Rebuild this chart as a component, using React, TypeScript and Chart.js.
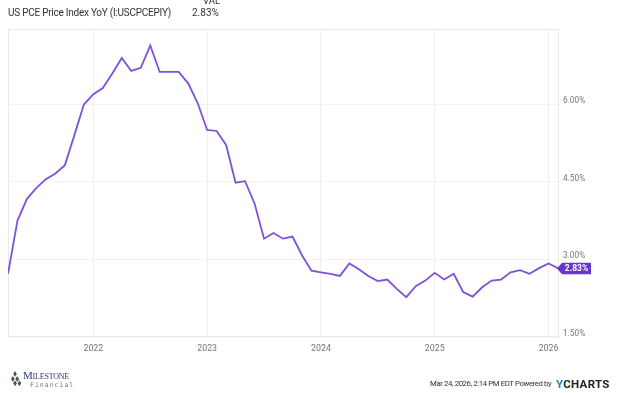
import React, { useEffect, useRef } from "react";
import { Chart, registerables } from "chart.js";

Chart.register(...registerables);

const seriesName = "US PCE Price Index YoY (I:USCPCEPIY)";
const lastValueText = "2.83%";

const months = [
  "2021-03", "2021-04", "2021-05", "2021-06", "2021-07", "2021-08", "2021-09", "2021-10", "2021-11", "2021-12",
  "2022-01", "2022-02", "2022-03", "2022-04", "2022-05", "2022-06", "2022-07", "2022-08", "2022-09", "2022-10", "2022-11", "2022-12",
  "2023-01", "2023-02", "2023-03", "2023-04", "2023-05", "2023-06", "2023-07", "2023-08", "2023-09", "2023-10", "2023-11", "2023-12",
  "2024-01", "2024-02", "2024-03", "2024-04", "2024-05", "2024-06", "2024-07", "2024-08", "2024-09", "2024-10", "2024-11", "2024-12",
  "2025-01", "2025-02", "2025-03", "2025-04", "2025-05", "2025-06", "2025-07", "2025-08", "2025-09", "2025-10", "2025-11", "2025-12",
  "2026-01",
];

const pceYoY = [
  2.72, 3.75, 4.17, 4.38, 4.55, 4.66, 4.82, 5.40, 5.99, 6.19,
  6.31, 6.59, 6.89, 6.64, 6.70, 7.13, 6.62, 6.62, 6.62, 6.40, 6.02, 5.50,
  5.48, 5.21, 4.48, 4.51, 4.08, 3.40, 3.51, 3.40, 3.44, 3.08, 2.78, 2.75,
  2.72, 2.68, 2.92, 2.81, 2.68, 2.58, 2.61, 2.43, 2.27, 2.48, 2.59, 2.74,
  2.61, 2.72, 2.37, 2.28, 2.46, 2.59, 2.61, 2.75, 2.79, 2.72, 2.83, 2.92,
  2.83,
];

const yTickValues = [1.5, 3.0, 4.5, 6.0];
const xTickYears = [2022, 2023, 2024, 2025, 2026];
const yMin = 1.5;
const yMax = 7.45;

const LINE_COLOR = "#7d52d9";
const BADGE_COLOR = "#6a35c9";
const FONT = "Roboto, 'DejaVu Sans', sans-serif";

// month-end dates as fractional years
const toYearFrac = (m: string) => {
  const [y, mo] = m.split("-").map(Number);
  return y + mo / 12;
};

const points = months.map((m, i) => ({ x: toYearFrac(m), y: pceYoY[i] }));

const framePlugin = {
  id: "frameAndBadge",
  beforeDatasetsDraw(chart: any) {
    const { ctx, chartArea } = chart;
    const { left, right, top, bottom } = chartArea;
    ctx.save();
    ctx.strokeStyle = "#e9e9e9";
    ctx.lineWidth = 1;
    ctx.beginPath();
    ctx.moveTo(left + 0.5, top + 0.5);
    ctx.lineTo(right - 0.5, top + 0.5);
    ctx.moveTo(left + 0.5, top);
    ctx.lineTo(left + 0.5, bottom);
    ctx.moveTo(left, bottom - 0.5);
    ctx.lineTo(right, bottom - 0.5);
    ctx.stroke();
    ctx.restore();
  },
  afterDraw(chart: any) {
    const { ctx, chartArea, scales } = chart;
    const last = pceYoY[pceYoY.length - 1];
    const yc = Math.round(scales.y.getPixelForValue(last)) + 0.5;
    const tip = chartArea.right - 1;
    const boxL = tip + 5;
    const boxR = boxL + 29;
    const h = 11.5;
    ctx.save();
    ctx.fillStyle = BADGE_COLOR;
    ctx.beginPath();
    ctx.moveTo(tip, yc);
    ctx.lineTo(boxL, yc - h / 2);
    ctx.lineTo(boxR, yc - h / 2);
    ctx.lineTo(boxR, yc + h / 2);
    ctx.lineTo(boxL, yc + h / 2);
    ctx.closePath();
    ctx.fill();
    ctx.fillStyle = "#ffffff";
    ctx.font = `bold 8.5px ${FONT}`;
    ctx.textAlign = "center";
    ctx.textBaseline = "middle";
    ctx.fillText(lastValueText, (boxL + boxR) / 2, yc + 0.5);
    ctx.restore();
  },
};

export default function App() {
  const canvasRef = useRef<HTMLCanvasElement | null>(null);

  useEffect(() => {
    if (!canvasRef.current) return;
    const chart = new Chart(canvasRef.current, {
      type: "line",
      data: {
        datasets: [
          {
            label: seriesName,
            data: points,
            borderColor: LINE_COLOR,
            borderWidth: 1.8,
            pointRadius: 0,
            tension: 0,
            fill: false,
          },
        ],
      },
      options: {
        animation: false,
        responsive: true,
        maintainAspectRatio: false,
        layout: { padding: { top: 29, left: 8, right: 0, bottom: 0 } },
        plugins: {
          legend: { display: false },
          tooltip: { enabled: false },
        },
        scales: {
          x: {
            type: "linear",
            min: toYearFrac(months[0]),
            max: toYearFrac(months[months.length - 1]),
            afterBuildTicks: (scale: any) => {
              scale.ticks = xTickYears.map((v) => ({ value: v }));
            },
            afterFit: (scale: any) => {
              scale.height = 56;
            },
            grid: { color: "#efefef", drawTicks: false, lineWidth: 1 },
            border: { display: false },
            ticks: {
              color: "#777777",
              font: { family: FONT, size: 8.8 },
              padding: 7,
              maxRotation: 0,
              autoSkip: false,
              callback: (v: any) => String(v),
            },
          },
          y: {
            position: "right",
            min: yMin,
            max: yMax,
            afterBuildTicks: (scale: any) => {
              scale.ticks = yTickValues.map((v) => ({ value: v }));
            },
            afterFit: (scale: any) => {
              scale.width = 66;
            },
            grid: { color: "#f3f3f3", drawTicks: false, lineWidth: 1 },
            border: { display: true, color: "#e9e9e9" },
            ticks: {
              color: "#777777",
              font: { family: FONT, size: 8.3 },
              padding: 5,
              labelOffset: -3,
              callback: (v: any) => Number(v).toFixed(2) + "%",
            },
          },
        },
      },
      plugins: [framePlugin],
    });
    return () => chart.destroy();
  }, []);

  return (
    <div
      style={{
        position: "absolute",
        left: 0,
        top: 0,
        width: 624,
        height: 393,
        background: "#ffffff",
        overflow: "hidden",
        fontFamily: FONT,
      }}
    >
      <canvas ref={canvasRef} style={{ position: "absolute", left: 0, top: 0 }} />
      <div style={{ position: "absolute", left: 8, top: 6, fontSize: 10, color: "#333", whiteSpace: "nowrap", lineHeight: "14px", letterSpacing: -0.25 }}>
        {seriesName}
      </div>
      <div style={{ position: "absolute", left: 203, top: -5, fontSize: 9.5, color: "#333", lineHeight: "12px" }}>VAL</div>
      <div style={{ position: "absolute", left: 192, top: 6, fontSize: 10, color: "#333", lineHeight: "14px" }}>{lastValueText}</div>

      {/* footer logo */}
      <div style={{ position: "absolute", left: 10, top: 371, width: 13, height: 16 }}>
        <svg width="13" height="16" viewBox="0 0 16 22">
          <polygon points="6,0 8.5,4 6,8 3.5,4" fill="#4a4f5c" />
          <polygon points="3,7 5.5,11 3,15 0.5,11" fill="#4a4f5c" />
          <polygon points="9,7 11.5,11 9,15 6.5,11" fill="#4a4f5c" />
          <polygon points="6,13 8.5,17 6,21 3.5,17" fill="#4a4f5c" />
          <polygon points="12,13 14.5,17 12,21 9.5,17" fill="#4a4f5c" />
        </svg>
      </div>
      <div style={{ position: "absolute", left: 23, top: 370, fontFamily: "'Liberation Serif', 'DejaVu Serif', serif", fontSize: 11, color: "#2f3a78", lineHeight: "11px", letterSpacing: -0.2, fontVariant: "small-caps" }}>
        Milestone
      </div>
      <div style={{ position: "absolute", left: 30, top: 381, fontFamily: "'DejaVu Sans Mono', monospace", fontSize: 6.5, color: "#777", lineHeight: "8px", letterSpacing: 1 }}>
        Financial
      </div>

      {/* footer right */}
      <div style={{ position: "absolute", left: 430, top: 379, fontSize: 7.8, color: "#333", whiteSpace: "nowrap", lineHeight: "10px", letterSpacing: -0.4 }}>
        Mar 24, 2026, 2:14 PM EDT Powered by
      </div>
      <div style={{ position: "absolute", left: 556, top: 377, fontSize: 11.5, fontWeight: 700, color: "#222", whiteSpace: "nowrap", lineHeight: "14px", letterSpacing: 0.3 }}>
        <span style={{ color: "#1a7fd6" }}>Y</span>CHARTS
      </div>
    </div>
  );
}
